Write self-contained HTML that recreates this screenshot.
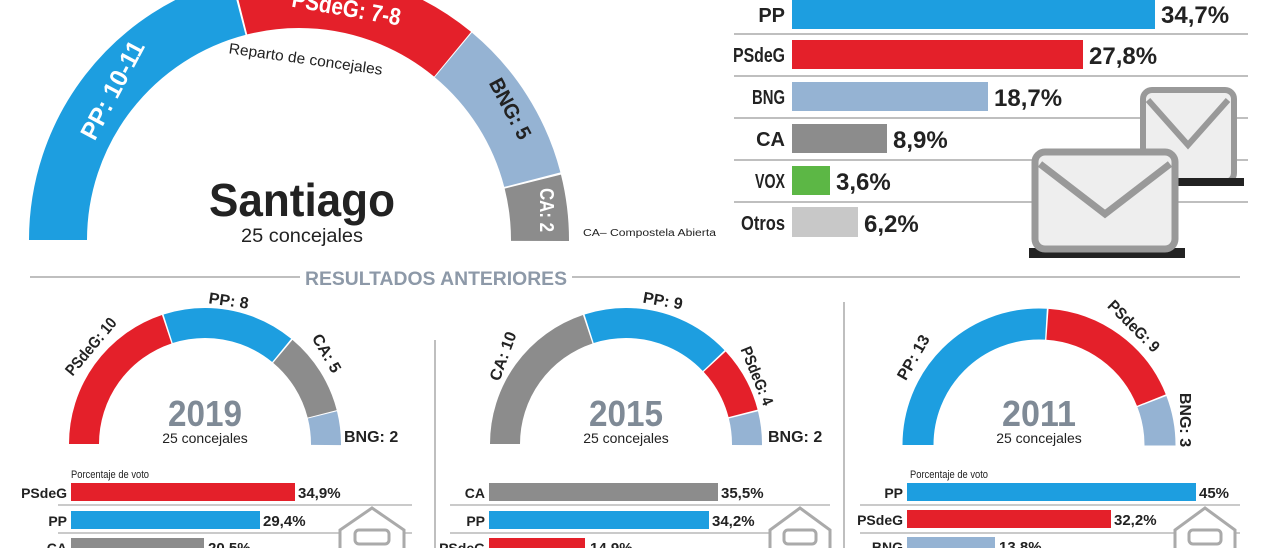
<!DOCTYPE html>
<html><head><meta charset="utf-8"><style>
body{margin:0;background:#fff;}
svg{display:block;font-family:"Liberation Sans Narrow","Liberation Sans",sans-serif;}
.b{font-weight:bold}
</style></head><body>
<svg width="1280" height="548" viewBox="0 0 1280 548">
<!-- main gauge -->
<g transform="rotate(180 299 240)" fill="none" stroke-width="58">
<circle cx="299" cy="240" r="241" stroke="#1d9ee0" stroke-dasharray="317 2000" stroke-dashoffset="0"/>
<circle cx="299" cy="240" r="241" stroke="#e4202a" stroke-dasharray="226 2000" stroke-dashoffset="-319"/>
<circle cx="299" cy="240" r="241" stroke="#95b3d3" stroke-dasharray="150 2000" stroke-dashoffset="-546"/>
<circle cx="299" cy="240" r="241" stroke="#8c8c8c" stroke-dasharray="60 2000" stroke-dashoffset="-698"/>
</g>
<text x="120" y="94" transform="rotate(-62 120 94)" text-anchor="middle" fill="#fff" class="b" font-size="25" textLength="108" lengthAdjust="spacingAndGlyphs">PP: 10-11</text>
<text x="345" y="16" transform="rotate(10 345 16)" text-anchor="middle" fill="#fff" class="b" font-size="24" textLength="110" lengthAdjust="spacingAndGlyphs">PSdeG: 7-8</text>
<text x="504" y="112" transform="rotate(62 504 112)" text-anchor="middle" fill="#222" class="b" font-size="21" textLength="66" lengthAdjust="spacingAndGlyphs">BNG: 5</text>
<text x="540" y="210" transform="rotate(90 540 210)" text-anchor="middle" fill="#fff" class="b" font-size="20" textLength="44" lengthAdjust="spacingAndGlyphs">CA: 2</text>
<text x="305" y="64" transform="rotate(8 305 64)" text-anchor="middle" fill="#222" font-size="15" textLength="155" lengthAdjust="spacingAndGlyphs">Reparto de concejales</text>
<text x="302" y="216" text-anchor="middle" fill="#222" class="b" font-size="46" textLength="186" lengthAdjust="spacingAndGlyphs">Santiago</text>
<text x="302" y="242" text-anchor="middle" fill="#222" font-size="19" textLength="122" lengthAdjust="spacingAndGlyphs">25 concejales</text>
<text x="583" y="236" fill="#222" font-size="10" textLength="133" lengthAdjust="spacingAndGlyphs">CA– Compostela Abierta</text>

<!-- top bars -->
<g stroke="#aaa" stroke-width="1.5">
<line x1="734" y1="34" x2="1248" y2="34"/><line x1="734" y1="76" x2="1248" y2="76"/>
<line x1="734" y1="118" x2="1248" y2="118"/><line x1="734" y1="160" x2="1248" y2="160"/>
<line x1="734" y1="202" x2="1248" y2="202"/>
</g>
<rect x="792" y="0" width="363" height="29" fill="#1d9ee0"/>
<rect x="792" y="40" width="291" height="29" fill="#e4202a"/>
<rect x="792" y="82" width="196" height="29" fill="#95b3d3"/>
<rect x="792" y="124" width="95" height="29" fill="#8c8c8c"/>
<rect x="792" y="166" width="38" height="29" fill="#5cb745"/>
<rect x="792" y="207" width="66" height="30" fill="#c8c8c8"/>
<g class="b" font-size="20" fill="#222" text-anchor="end">
<text x="785" y="22">PP</text><text x="785" y="62" textLength="52" lengthAdjust="spacingAndGlyphs">PSdeG</text><text x="785" y="104" textLength="33" lengthAdjust="spacingAndGlyphs">BNG</text>
<text x="785" y="146">CA</text><text x="785" y="188" textLength="30" lengthAdjust="spacingAndGlyphs">VOX</text><text x="785" y="230" textLength="44" lengthAdjust="spacingAndGlyphs">Otros</text>
</g>
<g class="b" font-size="24" fill="#222">
<text x="1161" y="23">34,7%</text><text x="1089" y="64">27,8%</text><text x="994" y="106">18,7%</text>
<text x="893" y="148">8,9%</text><text x="836" y="190">3,6%</text><text x="864" y="232">6,2%</text>
</g>
<!-- envelopes -->
<rect x="1143" y="90" width="91" height="92" rx="9" fill="#eee" stroke="#999" stroke-width="6"/>
<polyline points="1148,100 1188,145 1228,100" fill="none" stroke="#999" stroke-width="6"/>
<rect x="1176" y="178" width="68" height="8" fill="#222"/>
<rect x="1029" y="248" width="156" height="10" fill="#222"/>
<rect x="1035" y="152" width="140" height="97" rx="10" fill="#eee" stroke="#999" stroke-width="7"/>
<polyline points="1040,164 1105,214 1170,164" fill="none" stroke="#999" stroke-width="7"/>

<!-- section header -->
<line x1="30" y1="277" x2="1240" y2="277" stroke="#aaa" stroke-width="1.5"/>
<rect x="300" y="266" width="272" height="22" fill="#fff"/>
<text x="436" y="285" text-anchor="middle" fill="#8d99a8" class="b" font-size="19" textLength="262" lengthAdjust="spacingAndGlyphs">RESULTADOS ANTERIORES</text>
<line x1="435" y1="340" x2="435" y2="548" stroke="#aaa" stroke-width="1.5"/>
<line x1="844" y1="302" x2="844" y2="548" stroke="#aaa" stroke-width="1.5"/>

<!-- 2019 -->
<g transform="rotate(180 205 444)" fill="none" stroke-width="30">
<circle cx="205" cy="444" r="121" stroke="#e4202a" stroke-dasharray="151 1000" stroke-dashoffset="0"/>
<circle cx="205" cy="444" r="121" stroke="#1d9ee0" stroke-dasharray="120.5 1000" stroke-dashoffset="-152.5"/>
<circle cx="205" cy="444" r="121" stroke="#8c8c8c" stroke-dasharray="75 1000" stroke-dashoffset="-274.5"/>
<circle cx="205" cy="444" r="121" stroke="#95b3d3" stroke-dasharray="30.5 1000" stroke-dashoffset="-350.5"/>
</g>
<text x="95" y="350" transform="rotate(-50 95 350)" text-anchor="middle" class="b" font-size="16" fill="#222" textLength="70" lengthAdjust="spacingAndGlyphs">PSdeG: 10</text>
<text x="228" y="306" transform="rotate(8 228 306)" text-anchor="middle" class="b" font-size="16" fill="#222">PP: 8</text>
<text x="322" y="356" transform="rotate(60 322 356)" text-anchor="middle" class="b" font-size="16" fill="#222">CA: 5</text>
<text x="344" y="442" class="b" font-size="16" fill="#222">BNG: 2</text>
<text x="205" y="426" text-anchor="middle" class="b" font-size="36" fill="#7f8a96" font-family="Liberation Sans, sans-serif" textLength="74" lengthAdjust="spacingAndGlyphs">2019</text>
<text x="205" y="443" text-anchor="middle" font-size="14" fill="#222">25 concejales</text>

<!-- 2015 -->
<g transform="rotate(180 626 444)" fill="none" stroke-width="30">
<circle cx="626" cy="444" r="121" stroke="#8c8c8c" stroke-dasharray="151 1000" stroke-dashoffset="0"/>
<circle cx="626" cy="444" r="121" stroke="#1d9ee0" stroke-dasharray="135.5 1000" stroke-dashoffset="-152.5"/>
<circle cx="626" cy="444" r="121" stroke="#e4202a" stroke-dasharray="59.5 1000" stroke-dashoffset="-289.5"/>
<circle cx="626" cy="444" r="121" stroke="#95b3d3" stroke-dasharray="30.5 1000" stroke-dashoffset="-350.5"/>
</g>
<text x="508" y="358" transform="rotate(-70 508 358)" text-anchor="middle" class="b" font-size="16" fill="#222">CA: 10</text>
<text x="662" y="306" transform="rotate(10 662 306)" text-anchor="middle" class="b" font-size="16" fill="#222">PP: 9</text>
<text x="752" y="378" transform="rotate(68 752 378)" text-anchor="middle" class="b" font-size="16" fill="#222" textLength="62" lengthAdjust="spacingAndGlyphs">PSdeG: 4</text>
<text x="768" y="442" class="b" font-size="16" fill="#222">BNG: 2</text>
<text x="626" y="426" text-anchor="middle" class="b" font-size="36" fill="#7f8a96" font-family="Liberation Sans, sans-serif" textLength="74" lengthAdjust="spacingAndGlyphs">2015</text>
<text x="626" y="443" text-anchor="middle" font-size="14" fill="#222">25 concejales</text>

<!-- 2011 -->
<g transform="rotate(180 1039 445)" fill="none" stroke-width="31">
<circle cx="1039" cy="445" r="121" stroke="#1d9ee0" stroke-dasharray="197 1000" stroke-dashoffset="0"/>
<circle cx="1039" cy="445" r="121" stroke="#e4202a" stroke-dasharray="135.5 1000" stroke-dashoffset="-198.5"/>
<circle cx="1039" cy="445" r="121" stroke="#95b3d3" stroke-dasharray="45 1000" stroke-dashoffset="-335.5"/>
</g>
<text x="918" y="360" transform="rotate(-60 918 360)" text-anchor="middle" class="b" font-size="16" fill="#222">PP: 13</text>
<text x="1130" y="330" transform="rotate(45 1130 330)" text-anchor="middle" class="b" font-size="16" fill="#222" textLength="66" lengthAdjust="spacingAndGlyphs">PSdeG: 9</text>
<text x="1180" y="420" transform="rotate(90 1180 420)" text-anchor="middle" class="b" font-size="16" fill="#222">BNG: 3</text>
<text x="1039" y="426" text-anchor="middle" class="b" font-size="36" fill="#7f8a96" font-family="Liberation Sans, sans-serif" textLength="74" lengthAdjust="spacingAndGlyphs">2011</text>
<text x="1039" y="443" text-anchor="middle" font-size="14" fill="#222">25 concejales</text>

<!-- bottom bars -->
<g stroke="#aaa" stroke-width="1.2">
<line x1="58" y1="505" x2="412" y2="505"/><line x1="58" y1="533" x2="412" y2="533"/>
<line x1="450" y1="505" x2="830" y2="505"/><line x1="450" y1="533" x2="830" y2="533"/>
<line x1="860" y1="505" x2="1240" y2="505"/><line x1="860" y1="533" x2="1240" y2="533"/>
</g>
<g font-size="11" fill="#222"><text x="71" y="478" textLength="78" lengthAdjust="spacingAndGlyphs">Porcentaje de voto</text><text x="910" y="478" textLength="78" lengthAdjust="spacingAndGlyphs">Porcentaje de voto</text></g>
<rect x="71" y="483" width="224" height="18" fill="#e4202a"/>
<rect x="71" y="511" width="189" height="18" fill="#1d9ee0"/>
<rect x="71" y="538" width="133" height="18" fill="#8c8c8c"/>
<rect x="489" y="483" width="229" height="18" fill="#8c8c8c"/>
<rect x="489" y="511" width="220" height="18" fill="#1d9ee0"/>
<rect x="489" y="538" width="96" height="18" fill="#e4202a"/>
<rect x="907" y="483" width="289" height="18" fill="#1d9ee0"/>
<rect x="907" y="510" width="204" height="18" fill="#e4202a"/>
<rect x="907" y="537" width="88" height="18" fill="#95b3d3"/>
<g class="b" font-size="14" fill="#222" text-anchor="end">
<text x="67" y="498">PSdeG</text><text x="67" y="526">PP</text><text x="67" y="553">CA</text>
<text x="485" y="498">CA</text><text x="485" y="526">PP</text><text x="485" y="553">PSdeG</text>
<text x="903" y="498">PP</text><text x="903" y="525">PSdeG</text><text x="903" y="552">BNG</text>
</g>
<g class="b" font-size="15" fill="#222">
<text x="298" y="498">34,9%</text><text x="263" y="526">29,4%</text><text x="208" y="553">20,5%</text>
<text x="721" y="498">35,5%</text><text x="712" y="526">34,2%</text><text x="590" y="553">14,9%</text>
<text x="1199" y="498">45%</text><text x="1114" y="525">32,2%</text><text x="999" y="552">13,8%</text>
</g>
<!-- small envelope icons -->
<g fill="#fff" stroke="#aaa" stroke-width="3">
<path d="M340 548 V530 L372 508 L404 530 V548"/><rect x="355" y="530" width="34" height="14" rx="4"/>
<path d="M770 548 V530 L800 508 L830 530 V548"/><rect x="784" y="530" width="32" height="14" rx="4"/>
<path d="M1175 548 V530 L1205 508 L1235 530 V548"/><rect x="1189" y="530" width="32" height="14" rx="4"/>
</g>
</svg>
</body></html>
